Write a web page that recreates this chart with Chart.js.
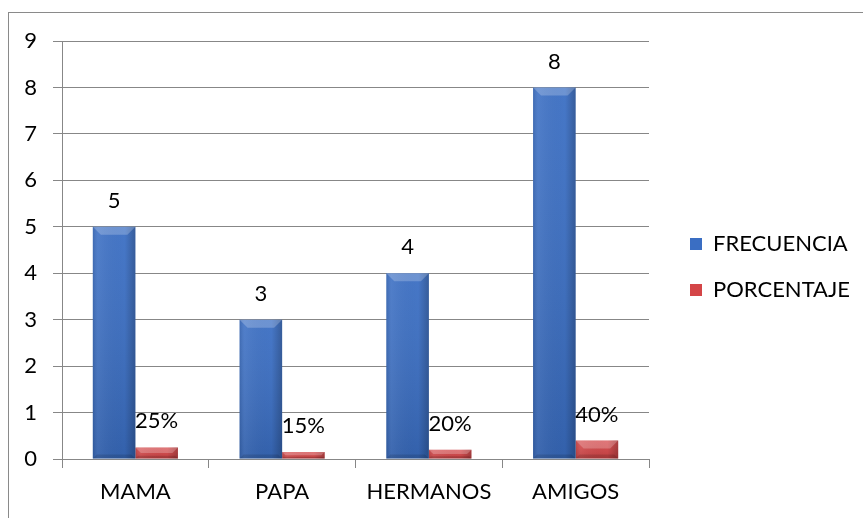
<!DOCTYPE html>
<html>
<head>
<meta charset="utf-8">
<script src="https://cdn.jsdelivr.net/npm/chart.js@4.4.1/dist/chart.umd.min.js"></script>
<style>
  html, body { margin: 0; padding: 0; background: #fff; }
  #wrap { position: relative; width: 863px; height: 518px; overflow: hidden; }
  #frame { position: absolute; left: 8px; top: 12px; width: 900px; height: 600px; border: 1px solid #8a8a8a; box-sizing: border-box; }
  #chart { position: absolute; left: 0; top: 0; }
</style>
</head>
<body>
<div id="wrap">
  <div id="frame"></div>
  <canvas id="chart" width="863" height="518"></canvas>
</div>
<script>
  const categories = ['MAMA', 'PAPA', 'HERMANOS', 'AMIGOS'];
  const frecuencia = [5, 3, 4, 8];
  const porcentaje = [0.25, 0.15, 0.20, 0.40];
  const seriesNames = ['FRECUENCIA', 'PORCENTAJE'];
  const yMin = 0;
  const yMax = 9;
  const yStep = 1;

  const FONT = 'Lato, "Liberation Sans", sans-serif';
  const FONT_SIZE = 22;
  const GRID = '#878787';
  const BLUE = '#3A6EC3';
  const RED = '#D44547';

  // legend geometry, so the plot area ends where the reference does
  const LEGEND_PAD = 24;
  const LEGEND_BOX = 12;
  const GAP_RIGHT = 17;
  const measure = document.createElement('canvas').getContext('2d');
  measure.font = `${FONT_SIZE}px ${FONT}`;
  const textW = Math.max(...seriesNames.map((t) => measure.measureText(t).width));
  const legendW = LEGEND_PAD + LEGEND_BOX + FONT_SIZE / 2 + textW + 10;
  const padRight = Math.max(0, 863 - 649 - GAP_RIGHT - legendW);

  const formatLabel = (dsIndex, value) =>
    dsIndex === 0 ? String(value) : `${Math.round(value * 100)}%`;

  // bevel look of the bars, drawn over each bar element
  const bevel = {
    id: 'bevel',
    afterDatasetsDraw(chart) {
      const { ctx } = chart;
      ctx.save();
      chart.data.datasets.forEach((ds, i) => {
        chart.getDatasetMeta(i).data.forEach((el) => {
          const left = el.x - el.width / 2;
          const right = el.x + el.width / 2;
          const top = Math.min(el.y, el.base);
          const bottom = Math.max(el.y, el.base);
          const h = bottom - top;
          const b = Math.min(8, h / 2);

          const v = ctx.createLinearGradient(0, top, 0, bottom);
          v.addColorStop(0, 'rgba(255,255,255,0.06)');
          v.addColorStop(1, 'rgba(0,0,0,0.12)');
          ctx.fillStyle = v;
          ctx.fillRect(left, top, right - left, h);

          const g = ctx.createLinearGradient(left, 0, right, 0);
          g.addColorStop(0, 'rgba(0,0,0,0.1)');
          g.addColorStop(0.12, 'rgba(255,255,255,0.06)');
          g.addColorStop(0.75, 'rgba(0,0,0,0)');
          g.addColorStop(1, 'rgba(0,0,0,0.22)');
          ctx.fillStyle = g;
          ctx.fillRect(left, top, right - left, h);

          ctx.fillStyle = 'rgba(255,255,255,0.22)';
          ctx.beginPath();
          ctx.moveTo(left, top);
          ctx.lineTo(right, top);
          ctx.lineTo(right - b, top + b);
          ctx.lineTo(left + b, top + b);
          ctx.closePath();
          ctx.fill();

          ctx.fillStyle = 'rgba(0,0,0,0.12)';
          ctx.beginPath();
          ctx.moveTo(left, bottom);
          ctx.lineTo(right, bottom);
          ctx.lineTo(right - b / 2, bottom - b / 2);
          ctx.lineTo(left + b / 2, bottom - b / 2);
          ctx.closePath();
          ctx.fill();
        });
      });
      ctx.restore();
    }
  };

  const valueLabels = {
    id: 'valueLabels',
    afterDatasetsDraw(chart) {
      const { ctx } = chart;
      ctx.save();
      ctx.font = `${FONT_SIZE}px ${FONT}`;
      ctx.fillStyle = '#000';
      ctx.textAlign = 'center';
      ctx.textBaseline = 'middle';
      chart.data.datasets.forEach((ds, i) => {
        chart.getDatasetMeta(i).data.forEach((el, j) => {
          ctx.fillText(formatLabel(i, ds.data[j]), el.x, el.y - 26);
        });
      });
      ctx.restore();
    }
  };

  Chart.defaults.font.family = FONT;
  Chart.defaults.font.size = FONT_SIZE;
  Chart.defaults.color = '#000';

  new Chart(document.getElementById('chart'), {
    type: 'bar',
    data: {
      labels: categories,
      datasets: [
        { label: seriesNames[0], data: frecuencia, backgroundColor: BLUE, borderWidth: 0 },
        { label: seriesNames[1], data: porcentaje, backgroundColor: RED, borderWidth: 0 }
      ]
    },
    options: {
      responsive: false,
      animation: false,
      layout: { padding: { left: 0, top: 41, right: padRight, bottom: 0 } },
      datasets: {
        bar: { categoryPercentage: 0.58, barPercentage: 1 }
      },
      plugins: {
        legend: {
          position: 'right',
          fullSize: false,
          maxWidth: 300,
          title: { display: true, text: ' ', font: { size: 10, lineHeight: 1 }, padding: 12 },
          labels: {
            boxWidth: LEGEND_BOX,
            boxHeight: LEGEND_BOX,
            padding: LEGEND_PAD,
            font: { size: FONT_SIZE },
            color: '#000'
          }
        },
        tooltip: { enabled: false }
      },
      scales: {
        x: {
          grid: { drawOnChartArea: false, drawTicks: true, tickLength: 9, color: GRID },
          border: { color: GRID },
          ticks: { padding: 11, color: '#000' },
          afterFit(scale) { scale.height = 518 - 459; }
        },
        y: {
          min: yMin,
          max: yMax,
          ticks: { stepSize: yStep, padding: 16, color: '#000' },
          grid: { color: GRID, tickLength: 9 },
          border: { color: GRID },
          afterFit(scale) { scale.width = 62; }
        },
        y2: {
          position: 'right',
          grid: { display: false },
          border: { display: false },
          ticks: { display: false },
          afterFit(scale) { scale.width = GAP_RIGHT; }
        }
      }
    },
    plugins: [bevel, valueLabels]
  });
</script>
</body>
</html>
